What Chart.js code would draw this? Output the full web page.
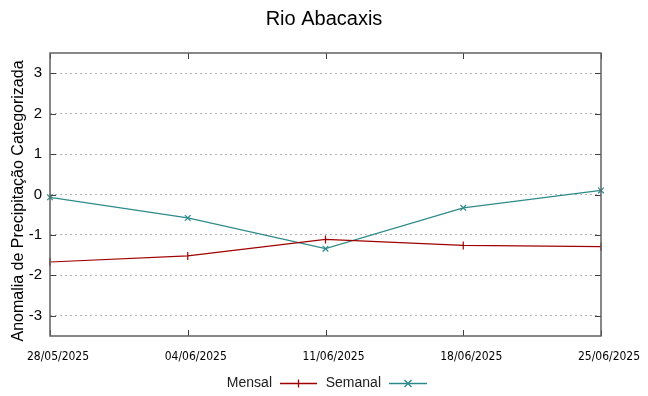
<!DOCTYPE html>
<html>
<head>
<meta charset="utf-8">
<script src="https://cdn.jsdelivr.net/npm/chart.js@4/dist/chart.umd.min.js"></script>
<style>
  html, body { margin: 0; padding: 0; background: #ffffff; }
  #wrap { width: 648px; height: 396px; position: relative; }
</style>
</head>
<body>
<div id="wrap"><canvas id="grafico"></canvas></div>
<script>
const titulo = 'Rio Abacaxis';
const tituloY = 'Anomalia de Precipitação Categorizada';
const datas = ['28/05/2025', '04/06/2025', '11/06/2025', '18/06/2025', '25/06/2025'];
const mensal = [-1.67, -1.52, -1.11, -1.26, -1.29];
const semanal = [-0.07, -0.58, -1.34, -0.33, 0.10];
const yTicks = [-3, -2, -1, 0, 1, 2, 3];

const corMensal = '#a00000';
const corSemanal = '#2f8a8a';
const corBorda = '#606060';
const fonte = '"Liberation Sans", Arial, sans-serif';

// titulo, marcas internas nos eixos (estilo gnuplot) e legenda abaixo
const extras = {
    id: 'extras',
    afterDraw(chart) {
        const ctx = chart.ctx;
        const a = chart.chartArea;
        const x = chart.scales.x;
        const y = chart.scales.y;
        ctx.save();

        ctx.fillStyle = '#000000';
        ctx.textAlign = 'center';
        ctx.textBaseline = 'middle';
        ctx.font = '20px ' + fonte;
        ctx.fillText(titulo, 324, 19);

        ctx.save();
        ctx.translate(19, 201);
        ctx.rotate(-Math.PI / 2);
        ctx.font = '16px ' + fonte;
        ctx.fillText(tituloY, 0, 0);
        ctx.restore();

        ctx.strokeStyle = '#404040';
        ctx.lineWidth = 1;
        yTicks.forEach(v => {
            const py = Math.round(y.getPixelForValue(v)) + 0.5;
            ctx.beginPath();
            ctx.moveTo(a.left, py); ctx.lineTo(a.left + 6, py);
            ctx.moveTo(a.right, py); ctx.lineTo(a.right - 6, py);
            ctx.stroke();
        });
        datas.forEach((d, i) => {
            const px = Math.round(x.getPixelForValue(i)) + 0.5;
            ctx.beginPath();
            ctx.moveTo(px, a.bottom); ctx.lineTo(px, a.bottom - 6);
            ctx.moveTo(px, a.top); ctx.lineTo(px, a.top + 6);
            ctx.stroke();
        });
        ctx.strokeStyle = corBorda;
        ctx.lineWidth = 1.5;
        ctx.strokeRect(a.left, a.top, a.right - a.left, a.bottom - a.top);

        // legenda
        const ly = 383;
        ctx.font = '14px ' + fonte;
        ctx.textAlign = 'right';
        const itens = [
            { nome: 'Mensal', cor: corMensal, fim: 272, x0: 280, x1: 317, marca: '+' },
            { nome: 'Semanal', cor: corSemanal, fim: 381, x0: 389, x1: 427, marca: 'x' }
        ];
        itens.forEach(it => {
            ctx.fillStyle = '#202020';
            ctx.fillText(it.nome, it.fim, ly);
            ctx.strokeStyle = it.cor;
            ctx.lineWidth = 1.3;
            ctx.beginPath();
            ctx.moveTo(it.x0, ly + 0.5); ctx.lineTo(it.x1, ly + 0.5);
            const cx = (it.x0 + it.x1) / 2;
            if (it.marca === '+') {
                ctx.moveTo(cx, ly - 3.5); ctx.lineTo(cx, ly + 4.5);
            } else {
                ctx.moveTo(cx - 3.5, ly - 3); ctx.lineTo(cx + 3.5, ly + 4);
                ctx.moveTo(cx + 3.5, ly - 3); ctx.lineTo(cx - 3.5, ly + 4);
            }
            ctx.stroke();
        });
        ctx.restore();
    }
};

new Chart(document.getElementById('grafico'), {
    type: 'line',
    data: {
        labels: datas,
        datasets: [
            {
                label: 'Mensal',
                data: mensal,
                borderColor: corMensal,
                backgroundColor: corMensal,
                borderWidth: 1.2,
                pointStyle: 'line',
                rotation: 90,
                pointRadius: 4,
                pointBorderWidth: 1.2,
                tension: 0
            },
            {
                label: 'Semanal',
                data: semanal,
                borderColor: corSemanal,
                backgroundColor: corSemanal,
                borderWidth: 1.2,
                pointStyle: 'crossRot',
                pointRadius: 4,
                pointBorderWidth: 1.2,
                tension: 0
            }
        ]
    },
    options: {
        responsive: true,
        maintainAspectRatio: false,
        animation: false,
        layout: { padding: { top: 53, right: 47, left: 0, bottom: 0 } },
        plugins: {
            legend: { display: false },
            tooltip: { enabled: false },
            title: { display: false }
        },
        scales: {
            x: {
                offset: false,
                grid: { display: false, drawTicks: false },
                border: { display: false },
                ticks: {
                    color: '#000000',
                    maxRotation: 0,
                    autoSkip: false,
                    padding: 14,
                    labelOffset: 8,
                    font: { family: '"Liberation Sans Narrow", "DejaVu Sans Condensed", sans-serif', size: 12 }
                },
                afterFit: s => { s.height = 60; }
            },
            y: {
                min: -3.5,
                max: 3.5,
                afterBuildTicks: s => { s.ticks = yTicks.map(v => ({ value: v })); },
                grid: {
                    color: '#b0b0b0',
                    lineWidth: 1,
                    drawTicks: false
                },
                border: { display: false, dash: [2, 3] },
                ticks: {
                    color: '#000000',
                    padding: 8,
                    font: { family: fonte, size: 15 }
                },
                afterFit: s => { s.width = 50; }
            }
        }
    },
    plugins: [extras]
});
</script>
</body>
</html>
